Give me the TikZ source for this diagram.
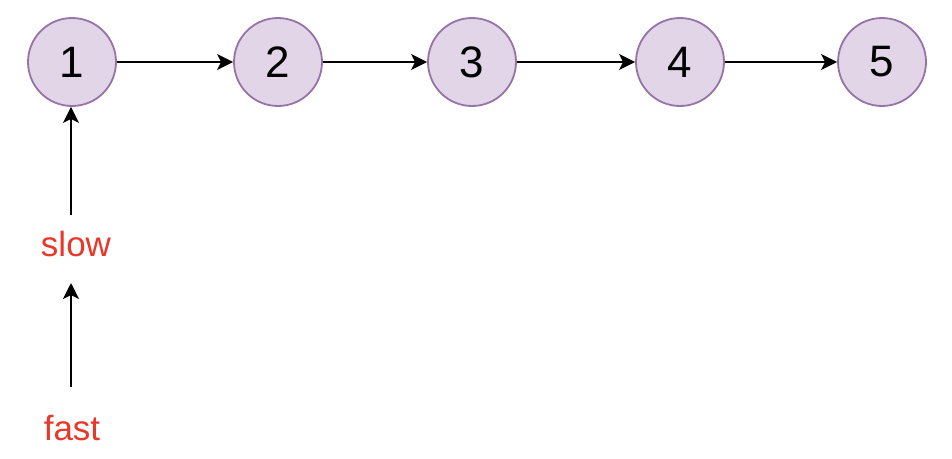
\documentclass[tikz,border=0pt]{standalone}
\usepackage{fontspec}
\setmainfont{Liberation Sans}
\usetikzlibrary{arrows.meta}
\definecolor{nfill}{HTML}{E1D5E7}
\definecolor{ndraw}{HTML}{9673A6}
\definecolor{lbl}{HTML}{E8382A}
\begin{document}
\begin{tikzpicture}[x=1pt,y=-1pt,
  numnode/.style={circle,draw=ndraw,fill=nfill,line width=1.8pt,minimum size=88pt,inner sep=0pt,font=\fontsize{44}{48}\selectfont},
  lbltext/.style={text=lbl,inner sep=0pt,font=\fontsize{35}{40}\selectfont},
  arr/.style={line width=1.8pt,-{Stealth[length=16pt,width=16pt,inset=4pt]}}]
\useasboundingbox (0,0) rectangle (952,458);
\node[numnode] (n1) at (72,62) {1};
\node[numnode] (n2) at (278,62) {2};
\node[numnode] (n3) at (472,62) {3};
\node[numnode] (n4) at (680,62) {4};
\node[numnode] (n5) at (882,62) {5};
\draw[arr] (n1) -- (n2);
\draw[arr] (n2) -- (n3);
\draw[arr] (n3) -- (n4);
\draw[arr] (n4) -- (n5);
\node[lbltext] (slow) at (76,244) {slow};
\node[lbltext] (fast) at (72,428) {fast};
\coordinate (s1) at (71,215);
\coordinate (s2) at (71,283);
\coordinate (f1) at (71,387);
\draw[arr] (s1) -- (n1.south -| s1);
\draw[arr] (f1) -- (s2);
\end{tikzpicture}
\end{document}
